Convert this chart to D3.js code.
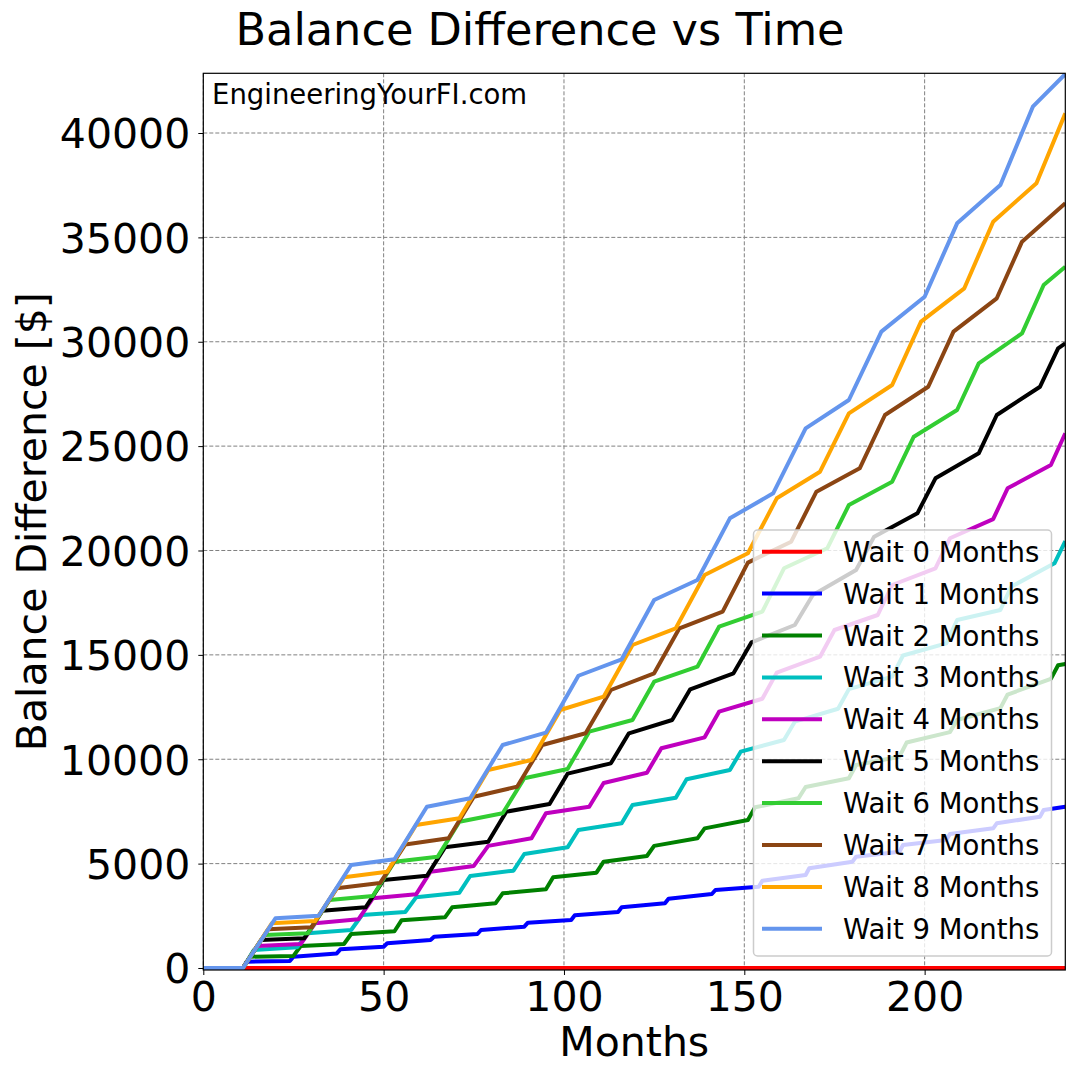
<!DOCTYPE html>
<html>
<head>
<meta charset="utf-8">
<script src="https://cdn.jsdelivr.net/npm/d3@7/dist/d3.min.js"></script>
<style>
	body { margin: 0; background: #fff; }
	text { font-family: "DejaVu Sans", sans-serif; fill: #000; }
</style>
</head>
<body>
<svg id="chart" width="1080" height="1080"></svg>
<script>
// [month, balance difference] at the corners of each curve
var wait0 = [[0, 0], [239, 0]];
var wait1 = [[0, 0], [11, 0], [12, 300], [24, 340], [25, 541], [37, 700], [38, 895], [50, 1020], [51, 1183], [63, 1341], [64, 1500], [76, 1629], [77, 1820], [89, 1980], [90, 2172], [102, 2300], [103, 2523], [115, 2683], [116, 2906], [128, 3098], [129, 3321], [141, 3545], [142, 3737], [154, 3895], [155, 4182], [167, 4455], [168, 4775], [180, 5093], [181, 5333], [193, 5572], [194, 5892], [206, 6132], [207, 6419], [219, 6690], [220, 6930], [232, 7250], [233, 7570], [239, 7728]];
var wait2 = [[0, 0], [11, 0], [13, 541], [25, 580], [27, 1054], [39, 1150], [41, 1629], [53, 1760], [55, 2290], [67, 2428], [69, 2906], [81, 3098], [83, 3577], [95, 3768], [97, 4343], [109, 4566], [111, 5093], [123, 5365], [125, 5850], [137, 6212], [139, 6690], [151, 7090], [153, 7700], [165, 8129], [167, 8670], [179, 9087], [181, 9725], [193, 10122], [195, 10800], [207, 11300], [209, 11880], [221, 12450], [223, 13100], [235, 13850], [237, 14500], [239, 14560]];
var wait3 = [[0, 0], [11, 0], [14, 862], [26, 990], [29, 1660], [41, 1820], [44, 2539], [56, 2680], [59, 3386], [71, 3607], [74, 4407], [86, 4662], [89, 5461], [101, 5780], [104, 6611], [116, 6930], [119, 7808], [131, 8160], [134, 9038], [146, 9485], [149, 10362], [161, 10922], [164, 11800], [176, 12420], [179, 13360], [191, 13956], [194, 14970], [206, 15554], [209, 16671], [221, 17150], [224, 18265], [236, 19387], [239, 20450]];
var wait4 = [[0, 0], [11, 0], [15, 1054], [27, 1150], [31, 2141], [43, 2333], [47, 3339], [59, 3530], [63, 4614], [75, 4890], [79, 5850], [91, 6212], [95, 7410], [107, 7728], [111, 8860], [123, 9356], [127, 10525], [139, 11050], [143, 12278], [155, 12900], [159, 14150], [171, 14913], [175, 16192], [187, 16910], [191, 18347], [203, 19147], [207, 20585], [219, 21500], [223, 22979], [235, 24096], [239, 25614]];
var wait5 = [[0, 0], [11, 0], [16, 1341], [28, 1421], [33, 2746], [45, 2906], [50, 4216], [62, 4415], [67, 5780], [79, 6052], [84, 7489], [96, 7856], [101, 9310], [113, 9804], [118, 11243], [130, 11880], [135, 13350], [147, 14117], [152, 15600], [164, 16431], [169, 17868], [181, 19066], [186, 20663], [198, 21782], [203, 23458], [215, 24655], [220, 26491], [232, 27846], [237, 29685], [239, 29925]];
var wait6 = [[0, 0], [11, 0], [17, 1581], [29, 1660], [35, 3257], [47, 3449], [53, 5093], [65, 5333], [71, 7010], [83, 7410], [89, 9087], [101, 9530], [107, 11320], [119, 11880], [125, 13715], [137, 14434], [143, 16350], [155, 17068], [161, 19147], [173, 20105], [179, 22179], [191, 23296], [197, 25452], [209, 26731], [215, 28967], [227, 30404], [233, 32719], [239, 33595]];
var wait7 = [[0, 0], [11, 0], [18, 1853], [30, 1950], [37, 3818], [49, 4070], [56, 5915], [68, 6212], [75, 8206], [87, 8685], [94, 10683], [106, 11243], [113, 13317], [125, 14117], [132, 16272], [144, 17068], [151, 19420], [163, 20422], [170, 22817], [182, 23938], [189, 26491], [201, 27846], [208, 30483], [220, 32081], [227, 34794], [239, 36632]];
var wait8 = [[0, 0], [11, 0], [19, 2141], [31, 2251], [39, 4343], [51, 4614], [59, 6850], [71, 7171], [79, 9485], [91, 9964], [99, 12359], [111, 12996], [119, 15473], [131, 16272], [139, 18826], [151, 19866], [159, 22500], [171, 23775], [179, 26571], [191, 27928], [199, 30962], [211, 32560], [219, 35752], [231, 37590], [239, 40942]];
var wait9 = [[0, 0], [11, 0], [20, 2381], [32, 2505], [41, 4934], [53, 5207], [62, 7728], [74, 8129], [83, 10683], [95, 11273], [104, 14000], [116, 14787], [125, 17628], [137, 18587], [146, 21542], [158, 22740], [167, 25853], [179, 27210], [188, 30483], [200, 32158], [209, 35673], [221, 37509], [230, 41260], [239, 42826]];

var seriesNames = ['Wait 0 Months', 'Wait 1 Months', 'Wait 2 Months', 'Wait 3 Months', 'Wait 4 Months',
	'Wait 5 Months', 'Wait 6 Months', 'Wait 7 Months', 'Wait 8 Months', 'Wait 9 Months'];
var seriesColors = ['#ff0000', '#0000ff', '#008000', '#00bfbf', '#bf00bf',
	'#000000', '#32cd32', '#8b4513', '#ffa500', '#6495ed'];
var xTicks = [0, 50, 100, 150, 200];
var yTicks = [0, 5000, 10000, 15000, 20000, 25000, 30000, 35000, 40000];

(function () {
	var allSeries = [wait0, wait1, wait2, wait3, wait4, wait5, wait6, wait7, wait8, wait9];
	var left = 203.3, right = 1065.3, top = 73.3, bottom = 970;

	var svg = d3.select('#chart');

	var x = d3.scaleLinear().domain([0, 239]).range([left, right]);
	var y = d3.scaleLinear().domain([-96, 42860]).range([bottom, top]);

	svg.append('defs').append('clipPath').attr('id', 'plot')
		.append('rect')
		.attr('x', left).attr('y', top)
		.attr('width', right - left).attr('height', bottom - top);

	// grid
	svg.append('g').selectAll('line')
		.data(xTicks)
		.enter().append('line')
		.attr('x1', function (d) { return x(d); })
		.attr('x2', function (d) { return x(d); })
		.attr('y1', top).attr('y2', bottom)
		.attr('stroke', '#808080').attr('stroke-width', 1)
		.attr('stroke-dasharray', '4,2');
	svg.append('g').selectAll('line')
		.data(yTicks)
		.enter().append('line')
		.attr('x1', left).attr('x2', right)
		.attr('y1', function (d) { return y(d); })
		.attr('y2', function (d) { return y(d); })
		.attr('stroke', '#808080').attr('stroke-width', 1)
		.attr('stroke-dasharray', '4,2');

	var line = d3.line()
		.x(function (d) { return x(d[0]); })
		.y(function (d) { return y(d[1]); });

	svg.append('g').attr('clip-path', 'url(#plot)')
		.selectAll('path')
		.data(allSeries)
		.enter().append('path')
		.attr('d', line)
		.attr('fill', 'none')
		.attr('stroke', function (d, i) { return seriesColors[i]; })
		.attr('stroke-width', 4)
		.attr('stroke-linejoin', 'round');

	// axes
	var xAxis = svg.append('g')
		.attr('transform', 'translate(0,' + bottom + ')')
		.call(d3.axisBottom(x).tickValues(xTicks).tickSize(5).tickPadding(7));
	var yAxis = svg.append('g')
		.attr('transform', 'translate(' + left + ',0)')
		.call(d3.axisLeft(y).tickValues(yTicks).tickSize(5).tickPadding(8)
			.tickFormat(function (d) { return d; }));
	[xAxis, yAxis].forEach(function (g) {
		g.select('.domain').remove();
		g.selectAll('.tick line').attr('stroke', '#000');
		g.selectAll('.tick text')
			.style('font-family', '"DejaVu Sans", sans-serif')
			.style('font-size', '41px')
			.attr('fill', '#000');
	});
	xAxis.selectAll('.tick text').attr('dy', '0.71em');
	yAxis.selectAll('.tick text').attr('dy', '0.36em');

	svg.append('rect')
		.attr('x', left).attr('y', top)
		.attr('width', right - left).attr('height', bottom - top)
		.attr('fill', 'none').attr('stroke', '#000').attr('stroke-width', 1.2);

	// labels
	svg.append('text')
		.attr('x', 540).attr('y', 45)
		.attr('text-anchor', 'middle')
		.style('font-size', '44.6px')
		.text('Balance Difference vs Time');
	svg.append('text')
		.attr('x', (left + right) / 2).attr('y', 1056)
		.attr('text-anchor', 'middle')
		.style('font-size', '41px')
		.text('Months');
	svg.append('text')
		.attr('transform', 'translate(46,' + ((top + bottom) / 2) + ') rotate(-90)')
		.attr('text-anchor', 'middle')
		.style('font-size', '41px')
		.text('Balance Difference [$]');
	svg.append('text')
		.attr('x', 212).attr('y', 104)
		.style('font-size', '27.5px')
		.text('EngineeringYourFI.com');

	// legend
	var legend = svg.append('g');
	legend.append('rect')
		.attr('x', 753.5).attr('y', 530)
		.attr('width', 298).attr('height', 426)
		.attr('rx', 4).attr('ry', 4)
		.attr('fill', '#fff').attr('fill-opacity', 0.8)
		.attr('stroke', '#cccccc').attr('stroke-width', 1.5);
	var rows = legend.selectAll('g.row')
		.data(seriesNames)
		.enter().append('g')
		.attr('class', 'row')
		.attr('transform', function (d, i) { return 'translate(0,' + (551.7 + i * 41.9) + ')'; });
	rows.append('line')
		.attr('x1', 762).attr('x2', 822)
		.attr('stroke', function (d, i) { return seriesColors[i]; })
		.attr('stroke-width', 4);
	rows.append('text')
		.attr('x', 843).attr('y', 10)
		.style('font-size', '27.5px')
		.text(function (d) { return d; });
}());
</script>
</body>
</html>
